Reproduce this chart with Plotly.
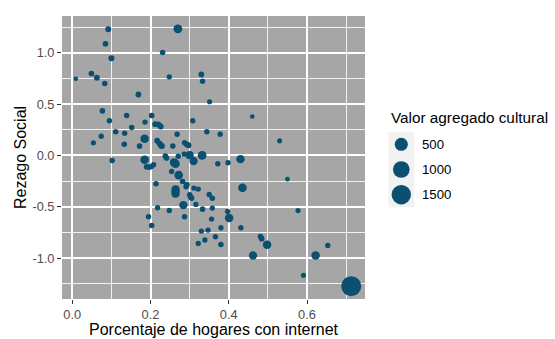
import numpy as np
import plotly.graph_objects as go

# Porcentaje de hogares con internet, rezago social y valor agregado cultural por municipio
internet = [
    0.092, 0.270, 0.085, 0.231, 0.100, 0.009, 0.049, 0.063, 0.083, 0.248,
    0.330, 0.333, 0.169, 0.351, 0.077, 0.095, 0.139, 0.203, 0.152, 0.186,
    0.212, 0.220, 0.226, 0.308, 0.344, 0.111, 0.134, 0.074, 0.054, 0.133,
    0.185, 0.172, 0.217, 0.223, 0.227, 0.229, 0.257, 0.268, 0.287, 0.293,
    0.297, 0.378, 0.460, 0.530, 0.238, 0.241, 0.271, 0.286, 0.300, 0.332,
    0.102, 0.185, 0.310, 0.372, 0.398, 0.430, 0.260, 0.264, 0.190, 0.197,
    0.202, 0.208, 0.254, 0.272, 0.550, 0.214, 0.282, 0.293, 0.291, 0.311,
    0.322, 0.264, 0.264, 0.264, 0.300, 0.303, 0.305, 0.435, 0.350, 0.358,
    0.284, 0.316, 0.218, 0.248, 0.333, 0.358, 0.397, 0.401, 0.356, 0.577,
    0.195, 0.287, 0.203, 0.330, 0.347, 0.380, 0.431, 0.339, 0.366, 0.380,
    0.322, 0.481, 0.484, 0.498, 0.462, 0.622, 0.653, 0.591, 0.713,
]
rezago = [
    1.230, 1.233, 1.088, 1.003, 0.947, 0.747, 0.798, 0.757, 0.701, 0.766,
    0.789, 0.723, 0.594, 0.523, 0.435, 0.338, 0.389, 0.389, 0.273, 0.325,
    0.305, 0.302, 0.282, 0.338, 0.231, 0.231, 0.217, 0.188, 0.124, 0.110,
    0.163, 0.091, 0.143, 0.117, 0.097, 0.091, 0.091, 0.207, 0.124, 0.107,
    0.100, 0.207, 0.380, 0.143, -0.007, -0.026, -0.007, 0.013, 0.003, 0.000,
    -0.049, -0.042, -0.055, -0.081, -0.071, -0.036, -0.068, -0.081, -0.110, -0.114,
    -0.107, -0.091, -0.156, -0.192, -0.231, -0.276, -0.253, -0.285, -0.305, -0.318,
    -0.328, -0.331, -0.350, -0.373, -0.383, -0.406, -0.416, -0.315, -0.380, -0.416,
    -0.484, -0.477, -0.509, -0.536, -0.523, -0.513, -0.545, -0.610, -0.620, -0.536,
    -0.597, -0.597, -0.682, -0.737, -0.727, -0.704, -0.704, -0.824, -0.792, -0.867,
    -0.857, -0.789, -0.811, -0.870, -0.974, -0.974, -0.876, -1.168, -1.273,
]
valor = [
    18, 130, 15, 12, 20, 6, 14, 16, 12, 10,
    14, 10, 16, 8, 14, 12, 12, 14, 12, 10,
    16, 14, 18, 10, 12, 12, 10, 10, 8, 12,
    110, 14, 16, 18, 22, 20, 12, 10, 12, 16,
    18, 10, 6, 8, 14, 12, 12, 10, 95, 120,
    12, 115, 100, 10, 10, 105, 90, 110, 14, 12,
    12, 10, 10, 115, 6, 12, 12, 14, 12, 10,
    10, 90, 95, 90, 12, 14, 12, 120, 10, 12,
    100, 10, 10, 10, 12, 10, 10, 110, 10, 8,
    10, 12, 12, 10, 10, 10, 10, 10, 10, 12,
    10, 12, 14, 110, 100, 110, 10, 8, 1620,
]

size_breaks = [500, 1000, 1500]
x_ticks = [0.0, 0.2, 0.4, 0.6]
y_ticks = [-1.0, -0.5, 0.0, 0.5, 1.0]

POINT = "#0B5070"
PANEL = "#A6A6A6"
FONT = "Liberation Sans, Arial, sans-serif"

vmin, vmax = min(valor), max(valor)


def area_size(v, d_lo=4.6, d_hi=20.0):
    """Area scale: diameter grows with the square root of the value."""
    r = (np.asarray(v, dtype=float) - vmin) / (vmax - vmin)
    return d_lo + (d_hi - d_lo) * np.sqrt(np.clip(r, 0, 1))


def expanded(vals, mult=0.05):
    lo, hi = min(vals), max(vals)
    pad = (hi - lo) * mult
    return [lo - pad, hi + pad]


def midpoints(ticks):
    step = ticks[1] - ticks[0]
    ext = [ticks[0] - step] + list(ticks) + [ticks[-1] + step]
    return [(a + b) / 2 for a, b in zip(ext[:-1], ext[1:])]


# plot geometry in pixels
W, H = 555, 339
ML, MT, MB = 62, 16, 40
pw, ph = W - ML, H - MT - MB
panel_right = 365
key_x0, key_x1 = 388.3, 414.3
key_y0, key_y1 = 131.7, 207.3

fig = go.Figure()

fig.add_trace(go.Scatter(
    x=internet, y=rezago, mode="markers",
    marker=dict(size=area_size(valor), color=POINT, line=dict(width=0), opacity=1),
    xaxis="x", yaxis="y", showlegend=False, cliponaxis=False,
))

# size legend keys
fig.add_trace(go.Scatter(
    x=[0] * len(size_breaks), y=list(range(len(size_breaks))), mode="markers",
    marker=dict(size=area_size(size_breaks), color=POINT, line=dict(width=0), opacity=1),
    xaxis="x2", yaxis="y2", showlegend=False, cliponaxis=False, hoverinfo="skip",
))

grid_major = dict(showgrid=True, gridcolor="#FFFFFF", gridwidth=1.5)
tick_style = dict(ticks="outside", ticklen=4, tickwidth=1, tickcolor="#333333",
                  tickfont=dict(family=FONT, size=12.8, color="#4D4D4D"),
                  showline=False, zeroline=False)

fig.update_layout(
    width=W, height=H,
    margin=dict(l=ML, r=0, t=MT, b=MB),
    paper_bgcolor="white", plot_bgcolor="rgba(0,0,0,0)",
    font=dict(family=FONT),
    xaxis=dict(
        domain=[0, (panel_right - ML) / pw],
        range=expanded(internet),
        tickmode="array", tickvals=x_ticks, ticktext=[f"{t:.1f}" for t in x_ticks],
        minor=dict(tickvals=midpoints(x_ticks), showgrid=True,
                   gridcolor="#F2F2F2", gridwidth=0.7, ticks=""),
        automargin=False, **grid_major, **tick_style,
    ),
    yaxis=dict(
        domain=[0, 1],
        range=expanded(rezago),
        tickmode="array", tickvals=y_ticks, ticktext=[f"{t:.1f}" for t in y_ticks],
        minor=dict(tickvals=midpoints(y_ticks), showgrid=True,
                   gridcolor="#F2F2F2", gridwidth=0.7, ticks=""),
        title=dict(text="Rezago Social",
                   font=dict(family=FONT, size=16, color="black"), standoff=1),
        automargin=False, **grid_major, **tick_style,
    ),
    xaxis2=dict(domain=[(key_x0 - ML) / pw, (key_x1 - ML) / pw],
                range=[-0.5, 0.5], visible=False, anchor="y2"),
    yaxis2=dict(domain=[(H - MB - key_y1) / ph, (H - MB - key_y0) / ph],
                range=[len(size_breaks) - 0.5, -0.5], visible=False, anchor="x2"),
    shapes=[
        dict(type="rect", xref="x domain", yref="y domain", x0=0, x1=1, y0=0, y1=1,
             fillcolor=PANEL, line=dict(width=0), layer="below"),
        dict(type="rect", xref="x2 domain", yref="y2 domain", x0=0, x1=1, y0=0, y1=1,
             fillcolor="#F2F2F2", line=dict(width=0), layer="below"),
    ],
)

annotations = [
    # x axis title, set just below the tick labels
    dict(text="Porcentaje de hogares con internet", xref="x domain", yref="y domain",
         x=0.5, y=0, xanchor="center", yanchor="middle", yshift=-30,
         showarrow=False, font=dict(family=FONT, size=16, color="black")),
    dict(text="Valor agregado cultural", xref="x2 domain", yref="y2 domain",
         x=0, y=1, xanchor="left", yanchor="bottom", xshift=1, yshift=4,
         showarrow=False, font=dict(family=FONT, size=15.3, color="black")),
]
for i, b in enumerate(size_breaks):
    annotations.append(dict(
        text=str(b), xref="x2 domain", yref="y2", x=1, y=i,
        xanchor="left", yanchor="middle", xshift=6, showarrow=False,
        font=dict(family=FONT, size=13.2, color="black"),
    ))
fig.update_layout(annotations=annotations)

fig.write_html("out.html")
